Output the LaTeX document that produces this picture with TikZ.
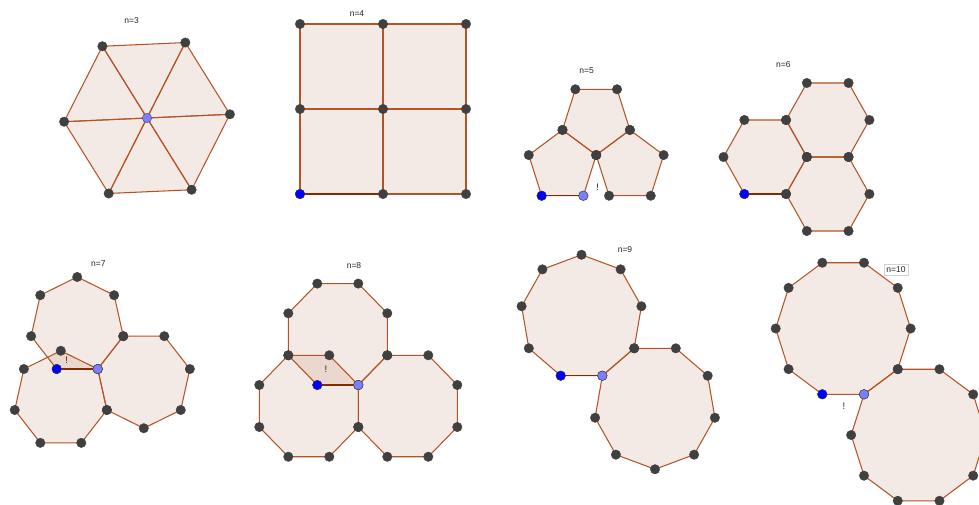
\documentclass[tikz,border=0pt]{standalone}
\usepackage{fontspec}
\setmainfont{Liberation Sans}
\usetikzlibrary{calc}
\definecolor{edge}{RGB}{153,51,0}
\definecolor{edgeline}{RGB}{178,84,38}
\definecolor{ptgray}{RGB}{64,64,64}
\definecolor{ptblue}{RGB}{0,0,255}
\definecolor{ptlight}{RGB}{125,125,255}
\definecolor{boxgray}{RGB}{210,210,210}
\def\SY{1.025}
\tikzset{
  poly/.style={draw=edgeline, line width=1.05pt, fill=edge, fill opacity=0.1, line join=round},
  hiedge/.style={draw=edge!85!black, line width=1.5pt},
  dot/.style={circle, inner sep=0pt, minimum size=9.5pt, fill=ptgray, draw=black!75, line width=0.35pt},
  bdot/.style={dot, fill=ptblue},
  ldot/.style={dot, fill=ptlight},
  lbl/.style={font=\fontsize{8.5}{10}\selectfont, text=black!85, inner sep=1pt},
  boxlbl/.style={lbl, draw=boxgray, fill=white, inner sep=2.5pt, line width=0.8pt},
  bang/.style={font=\fontsize{9.5}{10}\selectfont, text=black!85, inner sep=0pt}
}
\newcommand\RegPoly[5]{%
  \foreach \k in {1,...,#3}{%
    \coordinate (#1-\k) at ($(#2)+({#4*cos(#5+360*(\k-1)/#3)},{-\SY*#4*sin(#5+360*(\k-1)/#3)})$);
  }%
  \filldraw[poly] (#1-1) \foreach \k in {2,...,#3}{ -- (#1-\k)} -- cycle;
}
\newcommand\PolyDots[2]{%
  \foreach \k in {1,...,#2}{\node[dot] (d#1-\k) at (#1-\k) {};}%
}
\begin{document}
\begin{tikzpicture}[x=1pt,y=-1pt]
\fill[white] (0,0) rectangle (979,504);
\useasboundingbox (0,0) rectangle (979,504);
\clip (0,0) rectangle (979,504);

% ---------- n=3 ----------
\coordinate (c3) at (147,118);
\foreach \k in {1,...,6}
  \coordinate (h3-\k) at ($(c3)+({83*cos(2.5+60*(\k-1))},{-\SY*83*sin(2.5+60*(\k-1))})$);
\foreach \k [evaluate=\k as \j using {int(mod(\k,6)+1)}] in {1,...,6}
  \filldraw[poly] (c3) -- (h3-\k) -- (h3-\j) -- cycle;

% ---------- n=4 ----------
\foreach \i/\x in {1/300,2/383,3/466}
  \foreach \j/\y in {1/24,2/109,3/194}
    \coordinate (q-\i\j) at (\x,\y);
\foreach \i/\ii in {1/2,2/3}
  \foreach \j/\jj in {1/2,2/3}
    \filldraw[poly] (q-\i\j) -- (q-\ii\j) -- (q-\ii\jj) -- (q-\i\jj) -- cycle;
\draw[hiedge] (q-13) -- (q-23);

% ---------- n=5 ----------
\coordinate (c5a) at (562.5,166.3);
\coordinate (c5b) at (596.2,118.7);
\coordinate (c5c) at (629.9,166.3);
\RegPoly{p5a}{c5a}{5}{35.47}{90}
\RegPoly{p5b}{c5b}{5}{35.47}{270}
\RegPoly{p5c}{c5c}{5}{35.47}{90}
\draw[hiedge] (p5a-3) -- (p5a-4);

% ---------- n=6 ----------
\coordinate (c6a) at (765.2,157);
\coordinate (c6b) at (827.7,120);
\coordinate (c6c) at (827.7,194);
\RegPoly{p6a}{c6a}{6}{41.7}{0}
\RegPoly{p6b}{c6b}{6}{41.7}{0}
\RegPoly{p6c}{c6c}{6}{41.7}{0}
\draw[hiedge] (p6a-5) -- (p6a-6);

% ---------- n=7 ----------
\coordinate (c7a) at (77.2,325.4);
\coordinate (c7b) at (60.8,399.2);
\coordinate (c7c) at (143.8,379.8);
\RegPoly{p7a}{c7a}{7}{47.25}{90}
\RegPoly{p7b}{c7b}{7}{47.25}{90}
\RegPoly{p7c}{c7c}{7}{47.25}{270}
\draw[hiedge] (p7a-4) -- (p7a-5);

% ---------- n=8 ----------
\coordinate (c8a) at (337.8,334.3);
\coordinate (c8b) at (308.8,406.0);
\coordinate (c8c) at (407.8,406.0);
\RegPoly{p8a}{c8a}{8}{53.57}{22.5}
\RegPoly{p8b}{c8b}{8}{53.57}{22.5}
\RegPoly{p8c}{c8c}{8}{53.57}{22.5}
\draw[hiedge] (p8a-6) -- (p8a-7);

% ---------- n=9 ----------
\coordinate (c9a) at (581.5,317.1);
\coordinate (c9b) at (655.0,406.9);
\RegPoly{p9a}{c9a}{9}{60.82}{90}
\RegPoly{p9b}{c9b}{9}{60.82}{270}
\draw[hiedge] (p9a-5) -- (p9a-6);

% ---------- n=10 ----------
\coordinate (c10a) at (843.15,328.5);
\coordinate (c10b) at (918.6,435.0);
\RegPoly{p10a}{c10a}{10}{67.47}{0}
\RegPoly{p10b}{c10b}{10}{67.47}{0}

% ---------- points ----------
\foreach \k in {1,...,6} \node[dot] (dh3-\k) at (h3-\k) {};
\node[ldot] (dc3) at (c3) {};
\foreach \i in {1,2,3} \foreach \j in {1,2,3} \node[dot] (dq-\i\j) at (q-\i\j) {};
\node[bdot] (bq) at (q-13) {};

\PolyDots{p5a}{5}\PolyDots{p5b}{5}\PolyDots{p5c}{5}
\node[bdot] (b5) at (p5a-3) {};
\node[ldot] (l5) at (p5a-4) {};

\PolyDots{p6a}{6}\PolyDots{p6b}{6}\PolyDots{p6c}{6}
\node[bdot] (b6) at (p6a-5) {};

\PolyDots{p7a}{7}\PolyDots{p7b}{7}\PolyDots{p7c}{7}
\node[bdot] (b7) at (p7a-4) {};
\node[ldot] (l7) at (p7a-5) {};

\PolyDots{p8a}{8}\PolyDots{p8b}{8}\PolyDots{p8c}{8}
\node[bdot] (b8) at (p8a-6) {};
\node[ldot] (l8) at (p8a-7) {};

\PolyDots{p9a}{9}\PolyDots{p9b}{9}
\node[bdot] (b9) at (p9a-5) {};
\node[ldot] (l9) at (p9a-6) {};

\PolyDots{p10a}{10}\PolyDots{p10b}{10}
\node[bdot] (b10) at (p10a-8) {};
\node[ldot] (l10) at (p10a-9) {};

% ---------- labels ----------
\node[lbl] (t3) at (131.7,20.5) {n=3};
\node[lbl] (t4) at (357,13.5) {n=4};
\node[lbl] (t5) at (586.7,70.7) {n=5};
\node[lbl] (t6) at (783.3,65) {n=6};
\node[lbl] (t7) at (98.3,263.5) {n=7};
\node[lbl] (t8) at (354,266) {n=8};
\node[lbl] (t9) at (625,250) {n=9};
\node[boxlbl] (t10) at (896,269.5) {n=10};

\node[bang] (x5) at (597.7,187) {!};
\node[bang] (x7) at (66.7,360) {!};
\node[bang] (x8) at (326,369.3) {!};
\node[bang] (x10) at (844,406.7) {!};
\end{tikzpicture}
\end{document}
